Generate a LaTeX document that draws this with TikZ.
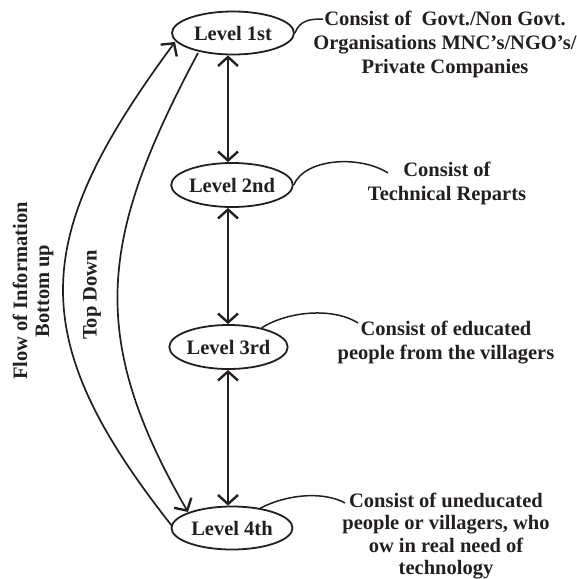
\documentclass[tikz,border=0pt]{standalone}
\usepackage{fontspec}
\setmainfont{Liberation Serif}
\usetikzlibrary{shapes.geometric,arrows.meta}
\definecolor{ink}{RGB}{35,31,32}
\tikzset{
  lvl/.style={draw=ink, line width=1.8pt, ellipse, inner sep=0pt, minimum width=122pt, minimum height=43pt,
    text=ink, font=\fontsize{20.5}{24}\selectfont\bfseries},
  desc/.style={text=ink, align=center, inner sep=0pt, font=\fontsize{20.5}{24}\selectfont\bfseries},
  tip/.style={-{Straight Barb[length=9pt,width=20pt,line width=2.4pt]}},
  dtip/.style={{Straight Barb[length=9pt,width=20pt,line width=2.4pt]}-{Straight Barb[length=9pt,width=20pt,line width=2.4pt]}},
  conn/.style={draw=ink, line width=1.7pt},
  wire/.style={draw=ink, line width=1.5pt}
}
\begin{document}
\begin{tikzpicture}[x=1pt,y=-1pt]
\useasboundingbox (0,0) rectangle (577,579);
% level ellipses
\node[lvl] (l1) at (233,33) {Level 1st};
\node[lvl, minimum width=121pt, minimum height=44pt] (l2) at (232,185) {Level 2nd};
\node[lvl, minimum width=114pt, minimum height=44pt] (l3) at (228.5,347) {Level 3rd};
\node[lvl, minimum width=121pt, minimum height=43pt] (l4) at (232,528) {Level 4th};
\coordinate (ax) at (228,0);
% vertical double arrows
\draw[conn, dtip] (l1.south -| ax) -- (l2.north -| ax);
\draw[conn, dtip] (l2.south -| ax) -- (l3.north -| ax);
\draw[conn, dtip] (l3.south -| ax) -- (l4.north -| ax);
% left curves
\coordinate (o1) at (172,526);
\coordinate (o2) at (175,42);
\draw[conn, tip] (o1) .. controls (22,336) and (31,237) .. (o2);
\coordinate (i1) at (198,53);
\coordinate (i2) at (188,512);
\draw[conn, tip] (i1) .. controls (101,235) and (85,334) .. (i2);
% rotated labels
\node[desc, rotate=90, font=\fontsize{20.5}{22}\selectfont\bfseries] (flow) at (33,291) {Flow of Information\\Bottom up};
\node[desc, rotate=90] (td) at (92,295) {Top Down};
% description texts
\node[desc] (d1) at (445,44) {Consist of\ \ Govt./Non Govt.\\Organisations MNC's/NGO's/\\Private Companies};
\node[desc] (d2) at (447,183) {Consist of\\Technical Reparts};
\node[desc] (d3) at (446,343) {Consist of educated\\people from the villagers};
\node[desc, font=\fontsize{20.5}{22.5}\selectfont\bfseries] (d4) at (446,536) {Consist of uneducated\\people or villagers, who\\ow in real need of\\technology};
% connectors to descriptions
\coordinate (e1) at (323,19);
\draw[wire] (l1.east) .. controls (300,20) and (310,19) .. (e1);
\coordinate (e2) at (388,173);
\draw[wire] (l2.east) .. controls (305,158) and (360,155) .. (e2);
\coordinate (e3) at (358,323);
\draw[wire] (l3.30) .. controls (290,310) and (335,308) .. (e3);
\coordinate (e4) at (345,503);
\draw[wire] (l4.35) .. controls (290,493) and (325,492) .. (e4);
\end{tikzpicture}
\end{document}
